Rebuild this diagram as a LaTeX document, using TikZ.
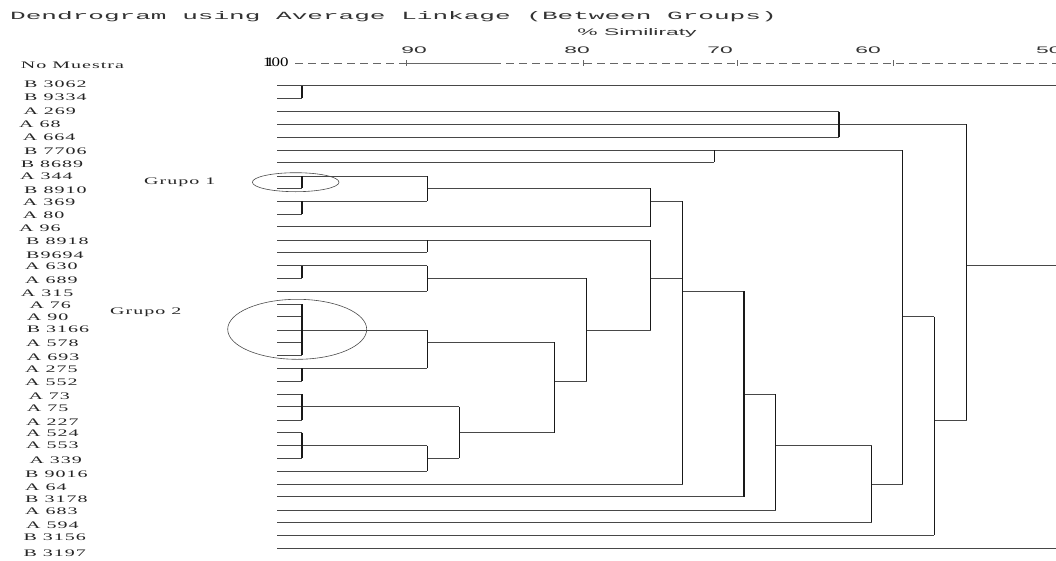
\documentclass[tikz,border=0pt]{standalone}
\usepackage{fontspec}
\setmainfont{Liberation Serif}
\newfontfamily\labfont[FakeStretch=2.0,LetterSpace=10]{Liberation Serif}
\newfontfamily\titfont[FakeStretch=2.37]{Liberation Mono}
\newfontfamily\axfont[FakeStretch=2.4]{Liberation Sans}
\newfontfamily\hundfont[FakeStretch=1.3]{Liberation Serif}
\usetikzlibrary{shapes.geometric}
\begin{document}
\begin{tikzpicture}[x=1pt,y=-1pt,
  hl/.style={draw=black!72,line width=0.9pt},
  vl/.style={draw=black!90,line width=1.4pt},
  lab/.style={anchor=west,inner sep=0pt,text=black!85,font=\labfont\fontsize{10}{12}\selectfont},
  ttl/.style={anchor=west,inner sep=0pt,text=black!80,font=\titfont\fontsize{11}{13}\selectfont},
  axl/.style={inner sep=0pt,text=black!80,font=\axfont\fontsize{9.5}{11}\selectfont},
  grp/.style={draw=black!70,line width=0.6pt,ellipse,inner sep=0pt},
  axline/.style={draw=black!60,line width=0.7pt}
]
\useasboundingbox (0,0) rectangle (1056,560);
\fill[white] (0,0) rectangle (1056,560);

% column coordinates
\foreach \n/\x in {302/302,427/427.3,459/459.3,554/554.3,586/586.7,650/650.7,682/682.7,714/714.3,744/744,775/775.7,839/839,871/871.7,902/902.7,934/934.3,966/966.7,R/1056}
  \coordinate (c\n) at (\x,0);

% leaf row coordinates
\foreach \i/\y in {0/85.7,1/98.3,2/111.7,3/124.3,4/137,5/150,6/162.3,7/176,8/188.3,9/201.3,10/214,11/226.7,12/240,13/252.3,14/265.7,15/278.3,16/291,17/304,18/316.7,19/330,20/342.3,21/355,22/368.3,23/381,24/394.3,25/406.7,26/420,27/432.7,28/445.7,29/458.3,30/471.3,31/484,32/496.7,33/510,34/522.3,35/535.3,36/548.3}
  \coordinate (l\i) at (277,\y);

% title and axis
\node[ttl] (title) at (10,17) {Dendrogram using Average Linkage (Between Groups)};
\node[axl] (simil) at (637,33) {\% Similiraty};
\node[lab] (nomu) at (20.7,65) {No Muestra};
\node[anchor=west,inner sep=0pt,font=\hundfont\fontsize{13}{15}\selectfont] (h100) at (263,62) {\makebox[0pt][l]{\hspace{2.5pt}1}100};
\node[axl] (a90) at (414,50) {90};
\node[axl] (a80) at (577,50) {80};
\node[axl] (a70) at (720,50) {70};
\node[axl] (a60) at (868,50) {60};
\node[axl,anchor=west] (a50) at (1036,50) {50};

\coordinate (ax0) at (295,63);
\coordinate (ax1) at (406,63);
\coordinate (ax2) at (493,63);
\coordinate (axE) at (1056,63);
\draw[axline,dash pattern=on 8pt off 5pt] (ax0) -- (ax1);
\draw[axline] (ax1) -- (ax2);
\draw[axline,dash pattern=on 8pt off 5pt] (ax2) -- (axE);
\foreach \x in {406,583,737,893} \draw[axline] (\x,60) -- (\x,66);

% leaf labels
\foreach \i/\x/\y/\txt in {0/24/84/B 3062,1/24/97.7/B 9334,2/23.3/111.7/A 269,3/19/124.3/A 68,4/22.7/137.7/A 664,5/24/151.3/B 7706,6/20.7/164/B 8689,7/20/176.7/A 344,8/24/190/B 8910,9/22.7/202.7/A 369,10/22.7/215.7/A 80,11/19/228.3/A 96,12/26/241.7/B 8918,13/26/255/B9694,14/25/266.7/A 630,15/25/280/A 689,16/20.7/293.3/A 315,17/29.3/305/A 76,18/26.7/317.3/A 90,19/26.7/329/B 3166,20/26/343.3/A 578,21/26.7/357.3/A 693,22/25/369/A 275,23/25/382.3/A 552,24/28.3/396.3/A 73,25/26.7/408.3/A 75,26/26/421.7/A 227,27/26/433.3/A 524,28/26/445.7/A 553,29/29.3/460/A 339,30/25/474/B 9016,31/25/487.3/A 64,32/25/499.3/B 3178,33/25/511.7/A 683,34/26/525/A 594,35/23.3/537.3/B 3156,36/23.3/553.3/B 3197}
  \node[lab] (t\i) at (\x,\y) {\txt};

% group labels and ellipses
\node[lab] (grupo1) at (144,182.3) {Grupo 1};
\node[lab] (grupo2) at (110,312.7) {Grupo 2};
\node[grp,minimum width=86.6pt,minimum height=19pt] (g1) at (295.7,182.2) {};
\node[grp,minimum width=139pt,minimum height=60pt] (g2) at (297.2,329.3) {};

% leaf lines
\foreach \i/\c in {0/R,1/302,2/839,3/966,4/839,5/902,6/714,7/427,8/302,9/427,10/302,11/650,12/650,13/427,14/427,15/302,16/427,17/302,18/302,19/427,20/302,21/302,22/427,23/302,24/302,25/459,26/302,27/302,28/427,29/302,30/427,31/682,32/744,33/775,34/871,35/934,36/R}
  \draw[hl] (l\i) -- (l\i -| c\c);

% internal horizontals: row / from column / to column
\foreach \r/\a/\b in {8/427/650,15/427/586,20/427/554,29/427/459,27/459/554,23/554/586,19/586/650,15/650/682,9/650/682,16/682/744,24/744/775,28/775/871,31/871/902,18/902/934,26/934/966,14/966/R}
  \draw[hl] (l\r -| c\a) -- (l\r -| c\b);

% verticals: column / from row / to row
\foreach \c/\a/\b in {302/0/1,302/7/8,302/9/10,302/14/15,302/17/21,302/22/23,302/24/26,302/27/29,427/7/9,427/12/13,427/14/16,427/19/22,427/28/30,459/25/29,554/20/27,586/15/23,650/8/11,650/12/19,682/9/31,714/5/6,744/16/32,775/24/33,839/2/4,871/28/34,902/5/31,934/18/35,966/3/26}
  \draw[vl] (l\a -| c\c) -- (l\b -| c\c);

\end{tikzpicture}
\end{document}
